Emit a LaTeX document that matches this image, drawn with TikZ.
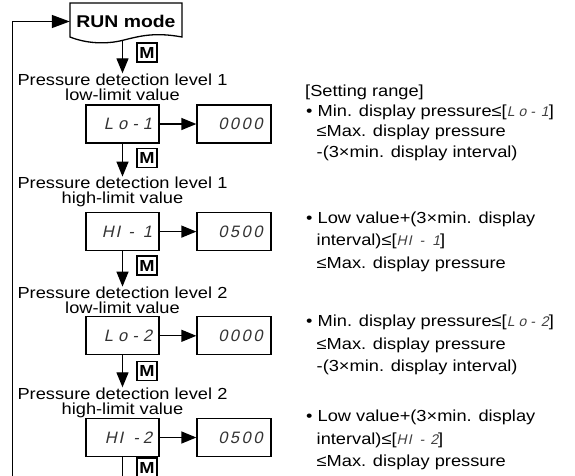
\documentclass[tikz,border=0pt]{standalone}
\usepackage{fontspec}
\setmainfont{Liberation Sans}[FakeStretch=1.14]
\newfontfamily\segfont{Liberation Sans}[FakeSlant=0.22]
\usetikzlibrary{arrows.meta,calc}
\newcommand\dk{\kern2.5pt}
\newcommand\dl{\kern5pt}
\newcommand\sg[1]{{\segfont\fontsize{14}{14}\selectfont\color{black!75}#1}}
\tikzset{
  dispbox/.style={draw, line width=1.3pt, minimum height=38pt, align=right,
    font=\segfont\fontsize{16.5}{16.5}\selectfont, text=black!80},
  lbox/.style={dispbox, inner xsep=7pt, text width=59pt},
  rbox/.style={dispbox, inner xsep=8.5pt, text width=57pt},
  mbox/.style={draw, line width=1.2pt, minimum width=20pt, minimum height=19pt,
    inner sep=0pt, font=\fontsize{16}{16}\selectfont\bfseries},
  lab/.style={align=center, inner sep=0pt, anchor=north,
    font=\fontsize{16}{15.5}\selectfont},
  txt/.style={anchor=base west, inner sep=0pt, font=\fontsize{16}{19}\selectfont},
  arr/.style={line width=1.3pt, -{Triangle[length=15pt,width=12pt]}},
}
\begin{document}
\begin{tikzpicture}[x=1pt,y=-1pt]
\clip (0,0) rectangle (575,475);
\fill[white] (0,0) rectangle (575,475);

% RUN mode
\node[font=\fontsize{17}{17}\selectfont\bfseries, minimum width=112pt,
  minimum height=37pt, inner sep=0pt] (run) at (126,21.5) {RUN mode};
\draw[line width=1.3pt] (70,37) -- (70,3) -- (182,3) -- (182,37)
  .. controls (155,32) and (140,36) .. (124,40)
  .. controls (105,45) and (85,43) .. (70,37) -- cycle;

% labels
\node[lab] (lab1) at (122.5,73.3) {Pressure detection level 1\\low-limit value};
\node[lab] (lab2) at (122.5,176.6) {Pressure detection level 1\\high-limit value};
\node[lab] (lab3) at (122.5,286.6) {Pressure detection level 2\\low-limit value};
\node[lab] (lab4) at (122.5,387.3) {Pressure detection level 2\\high-limit value};

% display boxes
\node[lbox] (lo1) at (122.5,124) {L\dl o\dl -\dl 1};
\node[rbox] (v1) at (234,124) {0\dk 0\dk 0\dk 0};
\node[lbox] (hi1) at (122.5,231.6) {H\kern2pt I\kern8pt -\kern9pt 1};
\node[rbox] (v2) at (234,231.6) {0\dk 5\dk 0\dk 0};
\node[lbox] (lo2) at (122.5,335.8) {L\dl o\dl -\dl 2};
\node[rbox] (v3) at (234,335.8) {0\dk 0\dk 0\dk 0};
\node[lbox] (hi2) at (122.5,437.5) {H\kern2pt I\kern10pt -\kern4pt 2};
\node[rbox] (v4) at (234,437.5) {0\dk 5\dk 0\dk 0};

% M keys
\node[mbox] (m1) at (147,52.5) {M};
\node[mbox] (m2) at (147,158) {M};
\node[mbox] (m3) at (147,265.5) {M};
\node[mbox] (m4) at (147,371) {M};
\node[mbox] (m5) at (147,467.5) {M};

% vertical arrows
\draw[arr] (lab1.north |- run.south) -- (lab1.north);
\draw[arr] (lo1.south) -- (lab2.north);
\draw[arr] (hi1.south) -- (lab3.north);
\draw[arr] (lo2.south) -- (lab4.north);
\coordinate (bot) at (122.5,490);
\draw[line width=1.3pt] (hi2.south) -- (bot);

% horizontal arrows
\draw[arr] (lo1) -- (v1);
\draw[arr] (hi1) -- (v2);
\draw[arr] (lo2) -- (v3);
\draw[arr] (hi2) -- (v4);

% loop back
\coordinate (loop) at (12.7,490);
\draw[line width=1.3pt, -{Triangle[length=18pt,width=13pt]}] (loop) |- (run.west);

% setting range text
\node[txt] (s0) at (305,96) {[Setting range]};
\node[txt] (s1a) at (306,116) {\textbullet\ Min. display pressure≤[\sg{L\kern4pt o\kern4pt -\kern6pt 1}]};
\node[txt] (s1b) at (316.5,136) {≤Max. display pressure};
\node[txt] (s1c) at (316.5,157) {-(3×min. display interval)};

\node[txt] (s2a) at (306,223) {\textbullet\ Low value+(3×min. display};
\node[txt] (s2b) at (316.5,245.5) {interval)≤[\sg{H\kern1pt I\kern8pt -\kern8pt 1}]};
\node[txt] (s2c) at (316.5,268) {≤Max. display pressure};

\node[txt] (s3a) at (306,326.7) {\textbullet\ Min. display pressure≤[\sg{L\kern4pt o\kern4pt -\kern6pt 2}]};
\node[txt] (s3b) at (316.5,349) {≤Max. display pressure};
\node[txt] (s3c) at (316.5,371) {-(3×min. display interval)};

\node[txt] (s4a) at (306,421.7) {\textbullet\ Low value+(3×min. display};
\node[txt] (s4b) at (316.5,444.5) {interval)≤[\sg{H\kern1pt I\kern8pt -\kern6pt 2}]};
\node[txt] (s4c) at (316.5,466.7) {≤Max. display pressure};
\end{tikzpicture}
\end{document}
